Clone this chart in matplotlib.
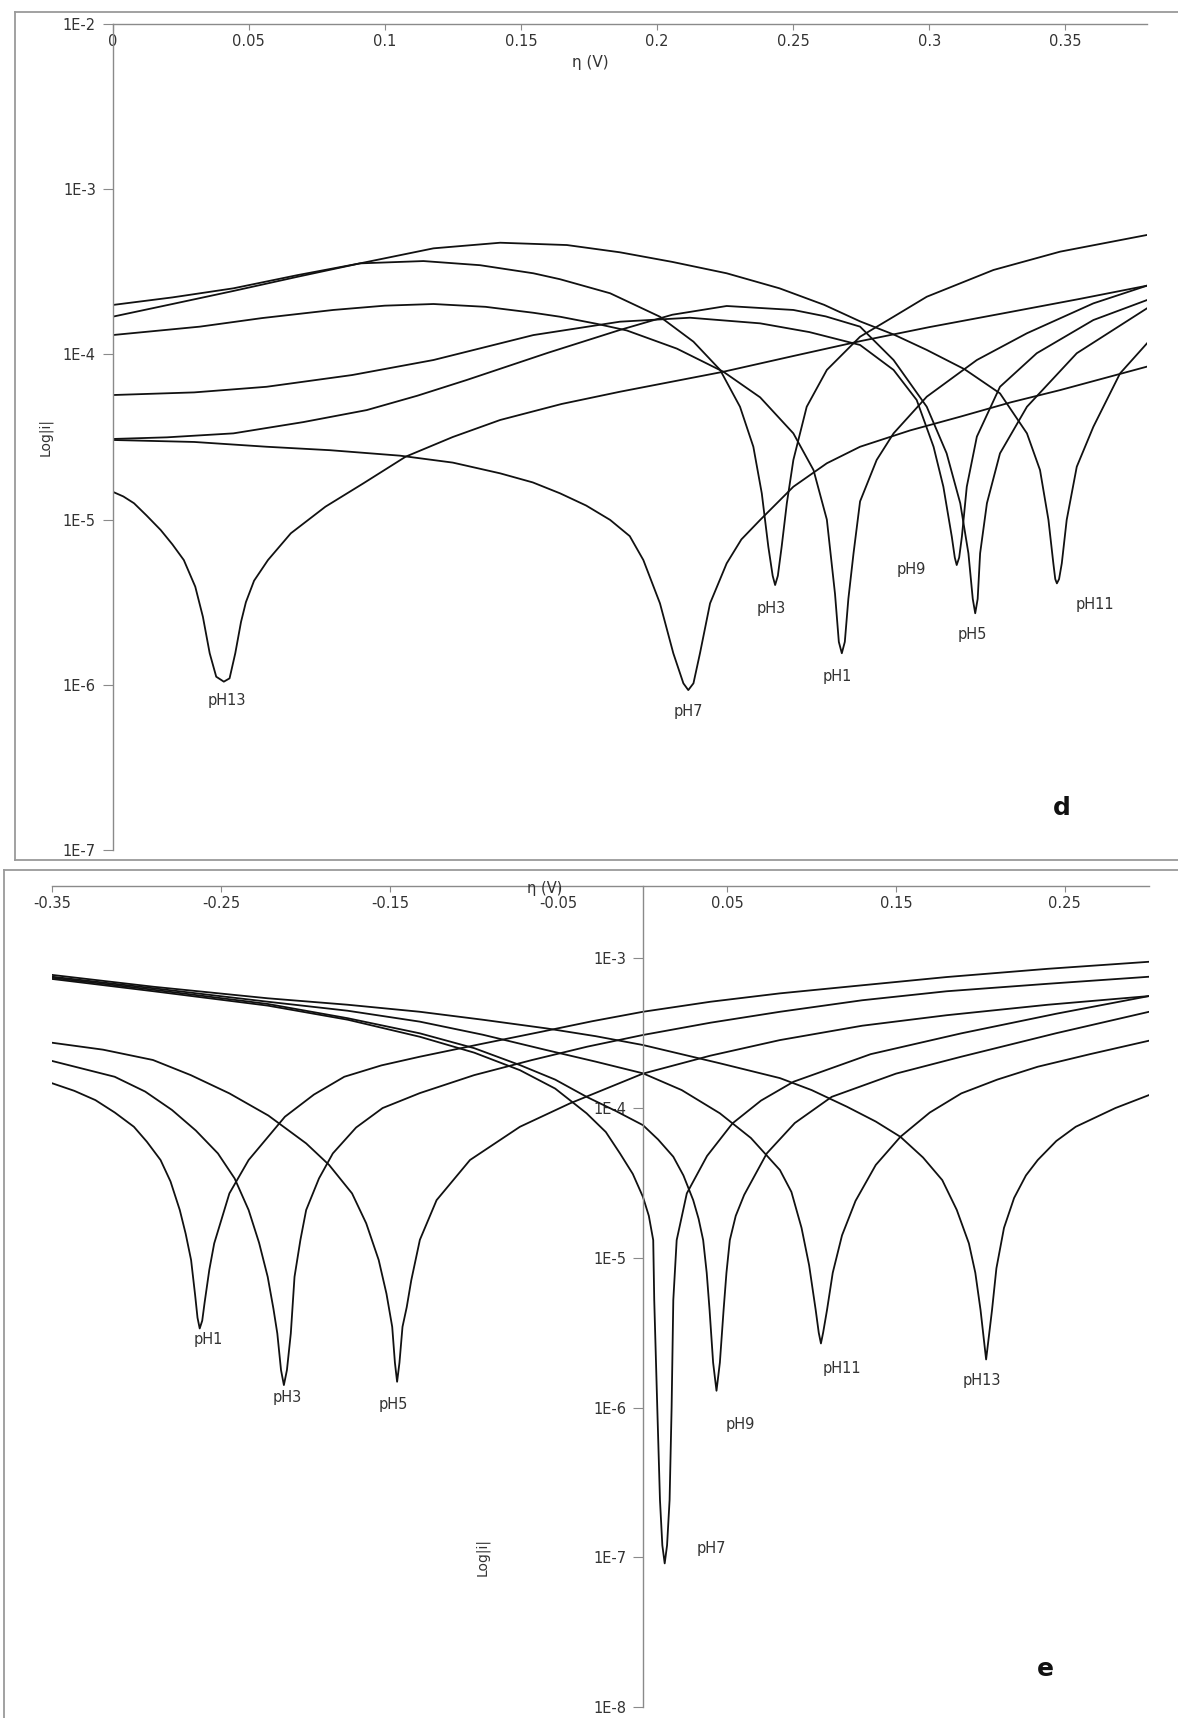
import numpy as np
import matplotlib
matplotlib.use("Agg")
import matplotlib.pyplot as plt
from matplotlib.lines import Line2D

# ---------------- panel d : eta (V) and log10|i| ----------------
d_ph1_eta = [0, 0.0321, 0.055, 0.0811, 0.10, 0.1179, 0.137, 0.1546, 0.1644, 0.1779, 0.1889, 0.2073,
             0.2244, 0.2379, 0.2501, 0.2575, 0.2624, 0.2654, 0.2668, 0.2679, 0.2690, 0.2703, 0.2722,
             0.2746, 0.2807, 0.2869, 0.2991, 0.3175, 0.3359, 0.3603, 0.38]
d_ph1_logi = [-3.883, -3.832, -3.78, -3.731, -3.705, -3.695, -3.712, -3.748, -3.772, -3.815, -3.855,
              -3.965, -4.105, -4.260, -4.478, -4.700, -5.000, -5.450, -5.740, -5.809, -5.740, -5.480,
              -5.204, -4.890, -4.639, -4.478, -4.256, -4.034, -3.872, -3.691, -3.584]

d_ph3_eta = [0, 0.022, 0.0444, 0.068, 0.0909, 0.1142, 0.135, 0.1546, 0.1644, 0.1828, 0.2011, 0.2134,
             0.2232, 0.2305, 0.2354, 0.2385, 0.2409, 0.2425, 0.2434, 0.2444, 0.2458, 0.2477, 0.2501,
             0.2550, 0.2624, 0.2746, 0.2869, 0.2991, 0.3236, 0.3481, 0.38]
d_ph3_logi = [-3.701, -3.655, -3.600, -3.52, -3.449, -3.435, -3.46, -3.509, -3.545, -3.630, -3.772,
              -3.923, -4.094, -4.317, -4.559, -4.841, -5.164, -5.34, -5.396, -5.34, -5.164, -4.901,
              -4.639, -4.317, -4.094, -3.893, -3.772, -3.651, -3.489, -3.378, -3.277]

d_ph5_eta = [0, 0.02, 0.0444, 0.07, 0.0934, 0.112, 0.1301, 0.16, 0.1864, 0.2056, 0.2256, 0.2501, 0.262,
             0.2746, 0.2869, 0.2991, 0.3064, 0.3114, 0.3144, 0.3160, 0.3169, 0.3178, 0.3187, 0.3212,
             0.3260, 0.3359, 0.3542, 0.38]
d_ph5_logi = [-4.512, -4.502, -4.478, -4.41, -4.337, -4.25, -4.155, -3.99, -3.852, -3.76, -3.707,
              -3.731, -3.77, -3.832, -4.034, -4.317, -4.599, -4.901, -5.204, -5.48, -5.567, -5.48,
              -5.204, -4.901, -4.599, -4.317, -3.993, -3.721]

d_ph7_eta = [0, 0.03, 0.0566, 0.08, 0.1056, 0.125, 0.1424, 0.1544, 0.1644, 0.174, 0.1828, 0.1900,
             0.1950, 0.2011, 0.2060, 0.2097, 0.2115, 0.2134, 0.2158, 0.2195, 0.2256, 0.2310, 0.2379,
             0.2501, 0.2624, 0.2746, 0.2930, 0.3114, 0.3300, 0.3481, 0.38]
d_ph7_logi = [-4.518, -4.53, -4.559, -4.58, -4.613, -4.655, -4.720, -4.775, -4.841, -4.915, -5.002,
              -5.10, -5.245, -5.507, -5.809, -5.991, -6.032, -5.991, -5.809, -5.507, -5.265, -5.12,
              -5.002, -4.801, -4.659, -4.559, -4.46, -4.377, -4.29, -4.216, -4.074]

d_ph9_eta = [0, 0.03, 0.0566, 0.088, 0.1179, 0.1546, 0.1864, 0.2121, 0.2379, 0.2560, 0.2746, 0.2869,
             0.2954, 0.3016, 0.3052, 0.3083, 0.3094, 0.3101, 0.3110, 0.3120, 0.3138, 0.3175, 0.3260,
             0.3395, 0.3603, 0.38]
d_ph9_logi = [-4.246, -4.23, -4.196, -4.125, -4.034, -3.883, -3.802, -3.778, -3.812, -3.865, -3.943,
              -4.094, -4.276, -4.559, -4.801, -5.104, -5.23, -5.275, -5.23, -5.104, -4.801, -4.498,
              -4.196, -3.993, -3.792, -3.671]

d_ph11_eta = [0, 0.022, 0.0444, 0.068, 0.0909, 0.1179, 0.1424, 0.1669, 0.1864, 0.2056, 0.2256, 0.2450,
              0.2614, 0.2746, 0.2870, 0.2991, 0.3130, 0.3260, 0.3359, 0.3407, 0.3438, 0.3456, 0.3463,
              0.3469, 0.3477, 0.3487, 0.3505, 0.3542, 0.3603, 0.3701, 0.38]
d_ph11_logi = [-3.772, -3.695, -3.616, -3.53, -3.449, -3.358, -3.324, -3.338, -3.382, -3.44, -3.509,
               -3.60, -3.700, -3.800, -3.88, -3.973, -4.09, -4.236, -4.478, -4.700, -5.002, -5.265,
               -5.36, -5.386, -5.36, -5.265, -5.002, -4.680, -4.438, -4.115, -3.933]

d_ph13_eta = [0, 0.004, 0.0079, 0.0125, 0.0177, 0.022, 0.0262, 0.0304, 0.0332, 0.0357, 0.0381, 0.0409,
              0.0430, 0.0451, 0.0472, 0.0490, 0.0520, 0.0571, 0.0655, 0.0782, 0.0922, 0.1077, 0.125,
              0.1424, 0.165, 0.1864, 0.2244, 0.25, 0.2746, 0.30, 0.3273, 0.355, 0.38]
d_ph13_logi = [-4.831, -4.86, -4.901, -4.975, -5.063, -5.15, -5.245, -5.406, -5.588, -5.809, -5.951,
               -5.981, -5.961, -5.809, -5.62, -5.50, -5.37, -5.245, -5.083, -4.922, -4.780, -4.619,
               -4.50, -4.397, -4.30, -4.226, -4.105, -4.01, -3.92, -3.835, -3.751, -3.665, -3.584]

d_labels = ["pH1", "pH3", "pH5", "pH7", "pH9", "pH11", "pH13"]
d_label_eta = [0.2663, 0.2418, 0.3158, 0.2117, 0.2933, 0.3609, 0.0419]
d_label_logi = [-5.947, -5.537, -5.693, -6.163, -5.305, -5.511, -6.098]

# ---------------- panel e ----------------
e_ph1_eta = [-0.35, -0.337, -0.3245, -0.313, -0.3017, -0.294, -0.2859, -0.2800, -0.2745, -0.2710,
             -0.2678, -0.2654, -0.2640, -0.2627, -0.2612, -0.2598, -0.2570, -0.2541, -0.2451, -0.2337,
             -0.2122, -0.1950, -0.1770, -0.1550, -0.1322, -0.0950, -0.0600, -0.0300, 0, 0.0400,
             0.0812, 0.13, 0.18, 0.24, 0.30]
e_ph1_logi = [-3.835, -3.885, -3.947, -4.03, -4.125, -4.225, -4.347, -4.49, -4.681, -4.84, -5.015,
              -5.25, -5.40, -5.472, -5.42, -5.30, -5.08, -4.904, -4.570, -4.347, -4.058, -3.91, -3.791,
              -3.715, -3.657, -3.57, -3.49, -3.42, -3.357, -3.29, -3.234, -3.18, -3.125, -3.07, -3.023]

e_ph3_eta = [-0.35, -0.3131, -0.2950, -0.2791, -0.2650, -0.2519, -0.2420, -0.2337, -0.2275, -0.2224,
             -0.2190, -0.2167, -0.2145, -0.2128, -0.2110, -0.2087, -0.2065, -0.2030, -0.1996, -0.1920,
             -0.1838, -0.1700, -0.1543, -0.1322, -0.1000, -0.0660, -0.0330, 0, 0.0400, 0.0812, 0.13,
             0.18, 0.24, 0.30]
e_ph3_logi = [-3.686, -3.791, -3.89, -4.013, -4.15, -4.303, -4.47, -4.681, -4.90, -5.127, -5.34,
              -5.505, -5.75, -5.850, -5.75, -5.505, -5.127, -4.88, -4.681, -4.47, -4.303, -4.13, -4.00,
              -3.90, -3.78, -3.68, -3.59, -3.512, -3.43, -3.357, -3.28, -3.22, -3.17, -3.123]

e_ph5_eta = [-0.35, -0.3200, -0.2904, -0.2680, -0.2451, -0.2220, -0.1996, -0.1860, -0.1724, -0.1640,
             -0.1566, -0.1520, -0.1486, -0.1470, -0.1457, -0.1443, -0.1425, -0.1400, -0.1373, -0.1322,
             -0.1223, -0.1025, -0.0729, -0.0433, 0, 0.0400, 0.0812, 0.13, 0.18, 0.24, 0.30]
e_ph5_logi = [-3.564, -3.61, -3.679, -3.78, -3.902, -4.05, -4.236, -4.38, -4.570, -4.77, -5.015, -5.24,
              -5.461, -5.70, -5.828, -5.70, -5.461, -5.33, -5.15, -4.880, -4.615, -4.347, -4.125,
              -3.969, -3.77, -3.65, -3.546, -3.45, -3.38, -3.31, -3.252]

e_ph7_eta = [-0.35, -0.29, -0.2223, -0.1750, -0.1322, -0.1000, -0.0729, -0.0520, -0.0334, -0.0220,
             -0.0136, -0.0060, 0, 0.0035, 0.0061, 0.0067, 0.0085, 0.0101, 0.0115, 0.0129, 0.0143,
             0.0158, 0.0170, 0.0180, 0.0200, 0.0260, 0.0380, 0.0531, 0.0700, 0.0893, 0.1350, 0.1887,
             0.245, 0.30]
e_ph7_logi = [-3.138, -3.22, -3.316, -3.41, -3.524, -3.63, -3.747, -3.87, -4.035, -4.16, -4.303, -4.44,
              -4.593, -4.72, -4.882, -5.282, -6.0, -6.618, -6.92, -7.041, -6.92, -6.618, -6.0, -5.282,
              -4.882, -4.570, -4.32, -4.102, -3.95, -3.824, -3.64, -3.501, -3.37, -3.252]

e_ph9_eta = [-0.35, -0.29, -0.2223, -0.1750, -0.1322, -0.1000, -0.0729, -0.0520, -0.0334, -0.0160, 0,
             0.0090, 0.0180, 0.0240, 0.0298, 0.0330, 0.0357, 0.0378, 0.0395, 0.0416, 0.0436, 0.0456,
             0.0478, 0.0495, 0.0515, 0.0550, 0.0600, 0.0734, 0.0900, 0.1119, 0.1500, 0.1887, 0.245,
             0.30]
e_ph9_logi = [-3.130, -3.21, -3.305, -3.40, -3.501, -3.60, -3.713, -3.81, -3.925, -4.02, -4.114, -4.21,
              -4.325, -4.45, -4.615, -4.74, -4.882, -5.10, -5.349, -5.70, -5.888, -5.70, -5.349, -5.10,
              -4.882, -4.72, -4.58, -4.303, -4.10, -3.925, -3.77, -3.657, -3.50, -3.357]

e_ph11_eta = [-0.35, -0.29, -0.2223, -0.1750, -0.1322, -0.0950, -0.0571, -0.0280, 0, 0.0230, 0.0456,
              0.0640, 0.0812, 0.0880, 0.0940, 0.0985, 0.1024, 0.1042, 0.1055, 0.1068, 0.1091, 0.1125,
              0.1180, 0.1260, 0.1380, 0.1526, 0.1700, 0.1887, 0.2100, 0.2340, 0.2650, 0.30]
e_ph11_logi = [-3.123, -3.20, -3.290, -3.35, -3.423, -3.51, -3.613, -3.69, -3.768, -3.88, -4.035,
               -4.20, -4.414, -4.56, -4.80, -5.05, -5.349, -5.50, -5.572, -5.50, -5.349, -5.10, -4.85,
               -4.62, -4.38, -4.192, -4.03, -3.902, -3.81, -3.724, -3.64, -3.550]

e_ph13_eta = [-0.35, -0.29, -0.2223, -0.1750, -0.1322, -0.0950, -0.0571, -0.0280, 0, 0.0456, 0.0812,
              0.1000, 0.1209, 0.1380, 0.1526, 0.1660, 0.1774, 0.1860, 0.1932, 0.1970, 0.2001, 0.2034,
              0.2069, 0.2095, 0.2140, 0.2200, 0.2270, 0.2340, 0.2450, 0.2565, 0.2800, 0.30]
e_ph13_logi = [-3.111, -3.19, -3.267, -3.31, -3.357, -3.41, -3.468, -3.52, -3.579, -3.701, -3.800,
               -3.88, -3.991, -4.09, -4.192, -4.33, -4.481, -4.68, -4.904, -5.10, -5.349, -5.679,
               -5.349, -5.07, -4.80, -4.60, -4.45, -4.347, -4.22, -4.125, -4.00, -3.913]

e_labels = ["pH1", "pH3", "pH5", "pH7", "pH9", "pH11", "pH13"]
e_label_eta = [-0.2575, -0.2110, -0.1480, 0.0407, 0.0575, 0.1182, 0.2007]
e_label_logi = [-5.545, -5.933, -5.977, -6.941, -6.111, -5.739, -5.822]

# axis ticks
d_xticks = [0, 0.05, 0.1, 0.15, 0.2, 0.25, 0.3, 0.35]
d_xticklabels = ["0", "0.05", "0.1", "0.15", "0.2", "0.25", "0.3", "0.35"]
d_yticks = [1e-7, 1e-6, 1e-5, 1e-4, 1e-3, 1e-2]
d_yticklabels = ["1E-7", "1E-6", "1E-5", "1E-4", "1E-3", "1E-2"]
e_xticks = [-0.35, -0.25, -0.15, -0.05, 0.05, 0.15, 0.25]
e_xticklabels = ["-0.35", "-0.25", "-0.15", "-0.05", "0.05", "0.15", "0.25"]
e_yticks = [1e-8, 1e-7, 1e-6, 1e-5, 1e-4, 1e-3]
e_yticklabels = ["1E-8", "1E-7", "1E-6", "1E-5", "1E-4", "1E-3"]

W, H = 1178, 1718
AXIS_GREY = "#8a8a8a"
TEXT = "#333333"
CURVE = "#111111"


def fx(x):
    return x / W


def fy(y):
    return 1 - y / H


def style_axes(ax):
    ax.set_yscale("log")
    ax.patch.set_alpha(0)
    for s in ["right", "bottom"]:
        ax.spines[s].set_visible(False)
    for s in ["left", "top"]:
        ax.spines[s].set_color(AXIS_GREY)
        ax.spines[s].set_linewidth(1.0)
    ax.xaxis.tick_top()
    ax.tick_params(axis="x", direction="in", length=4, width=0.8, pad=-18,
                   color=AXIS_GREY, labelcolor=TEXT, labelsize=10.5)
    ax.tick_params(axis="y", direction="out", length=7, width=0.8, pad=5,
                   color=AXIS_GREY, labelcolor=TEXT, labelsize=10.5)
    ax.minorticks_off()


fig = plt.figure(figsize=(W / 100, H / 100), dpi=100)

# ---- panel d ----
axd = fig.add_axes([fx(112.5), fy(850), fx(1147) - fx(112.5), fy(24) - fy(850)])
style_axes(axd)
for eta, logi in [(d_ph1_eta, d_ph1_logi), (d_ph3_eta, d_ph3_logi), (d_ph5_eta, d_ph5_logi),
                  (d_ph7_eta, d_ph7_logi), (d_ph9_eta, d_ph9_logi), (d_ph11_eta, d_ph11_logi),
                  (d_ph13_eta, d_ph13_logi)]:
    axd.plot(eta, np.power(10.0, logi), color=CURVE, lw=1.3, solid_joinstyle="round")
axd.set_xlim(0, 0.38)
axd.set_ylim(1e-7, 1e-2)
axd.set_xticks(d_xticks)
axd.set_xticklabels(d_xticklabels)
axd.set_yticks(d_yticks)
axd.set_yticklabels(d_yticklabels)
axd.minorticks_off()
for lab, x, l in zip(d_labels, d_label_eta, d_label_logi):
    axd.text(x, 10 ** l, lab, ha="center", va="center", fontsize=10.5, color=TEXT)

# ---- panel e ----
axe = fig.add_axes([fx(52.4), fy(1707), fx(1149.1) - fx(52.4), fy(886) - fy(1707)])
style_axes(axe)
axe.spines["left"].set_position(("data", 0))
for eta, logi in [(e_ph1_eta, e_ph1_logi), (e_ph3_eta, e_ph3_logi), (e_ph5_eta, e_ph5_logi),
                  (e_ph7_eta, e_ph7_logi), (e_ph9_eta, e_ph9_logi), (e_ph11_eta, e_ph11_logi),
                  (e_ph13_eta, e_ph13_logi)]:
    axe.plot(eta, np.power(10.0, logi), color=CURVE, lw=1.3, solid_joinstyle="round")
axe.set_xlim(-0.35, 0.30)
axe.set_ylim(1e-8, 10 ** -2.517)
axe.set_xticks(e_xticks)
axe.set_xticklabels(e_xticklabels)
axe.set_yticks(e_yticks)
axe.set_yticklabels(e_yticklabels)
axe.minorticks_off()
for lab, x, l in zip(e_labels, e_label_eta, e_label_logi):
    axe.text(x, 10 ** l, lab, ha="center", va="center", fontsize=10.5, color=TEXT)

# axis titles and panel letters
fig.text(fx(590), fy(62), "η (V)", ha="center", va="center", fontsize=11, color=TEXT)
fig.text(fx(545), fy(889), "η (V)", ha="center", va="center", fontsize=10.5, color=TEXT)
fig.text(fx(45), fy(437), "Log|i|", ha="center", va="center", fontsize=10, color=TEXT, rotation=90)
fig.text(fx(482), fy(1557), "Log|i|", ha="center", va="center", fontsize=10, color=TEXT, rotation=90)
fig.text(fx(1062), fy(808), "d", ha="center", va="center", fontsize=18, fontweight="bold", color="#111111")
fig.text(fx(1045), fy(1669), "e", ha="center", va="center", fontsize=18, fontweight="bold", color="#111111")

# grey frames around the two panels
frame = dict(color="#9a9a9a", lw=1.3, transform=fig.transFigure)
fig.add_artist(Line2D([fx(15), fx(15)], [fy(12), fy(860)], **frame))
fig.add_artist(Line2D([fx(15), 1.0], [fy(12), fy(12)], **frame))
fig.add_artist(Line2D([fx(15), 1.0], [fy(860), fy(860)], **frame))
fig.add_artist(Line2D([fx(4), 1.0], [fy(870), fy(870)], **frame))
fig.add_artist(Line2D([fx(4), fx(4)], [fy(870), 0.0], **frame))

fig.savefig("out.png", dpi=100, facecolor="white")
